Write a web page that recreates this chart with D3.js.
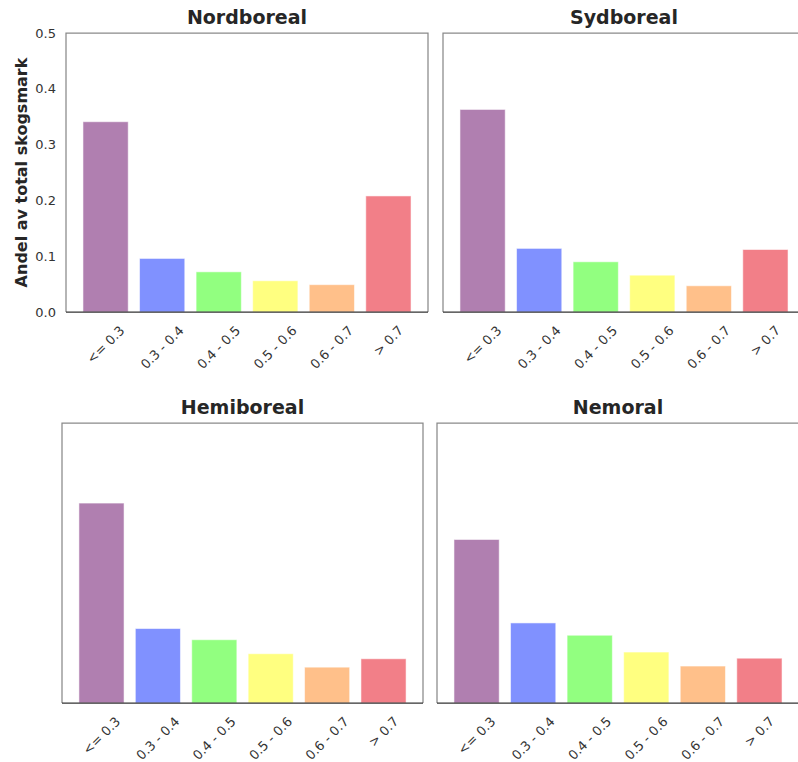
<!DOCTYPE html>
<html lang="sv">
<head>
<meta charset="utf-8">
<title>Andel av total skogsmark</title>
<script src="https://cdn.jsdelivr.net/npm/d3@7"></script>
<style>
	body { margin: 0; background: white; }
	svg { display: block; font-family: "DejaVu Sans", sans-serif; }
	.title { font-weight: bold; font-size: 19px; fill: #262626; }
	.ylab { font-weight: bold; font-size: 16px; fill: #262626; }
</style>
</head>
<body>
<script>
// the data
var categories = ["<= 0.3", "0.3 - 0.4", "0.4 - 0.5", "0.5 - 0.6", "0.6 - 0.7", "> 0.7"]
var regions = ["Nordboreal", "Sydboreal", "Hemiboreal", "Nemoral"]
var nordboreal = [0.341, 0.096, 0.072, 0.056, 0.049, 0.208]
var sydboreal  = [0.363, 0.114, 0.090, 0.066, 0.047, 0.112]
var hemiboreal = [0.357, 0.133, 0.113, 0.088, 0.064, 0.079]
var nemoral    = [0.292, 0.143, 0.121, 0.091, 0.066, 0.080]
var yTicks = [0.0, 0.1, 0.2, 0.3, 0.4, 0.5]
var barColors = ["#b07fb0", "#8091ff", "#92ff80", "#ffff80", "#ffc08a", "#f27f88"]

var series = [nordboreal, sydboreal, hemiboreal, nemoral]
var tickFont = 13

// panel boxes (left, right, top, bottom)
var panels = [
	{x0: 66,  x1: 428, y0: 33,  y1: 312, yaxis: true},
	{x0: 443, x1: 805, y0: 33,  y1: 312, yaxis: false},
	{x0: 62,  x1: 423, y0: 423, y1: 703, yaxis: false},
	{x0: 437, x1: 799, y0: 423, y1: 703, yaxis: false}
]

var svg = d3.select("body").append("svg")
	.attr("width", 798)
	.attr("height", 762)

panels.forEach(function(p, k) {
	var vals = series[k]
	var x = d3.scaleBand().domain(categories).range([p.x0, p.x1])
		.paddingInner(0.2).paddingOuter(0.3)
	var y = d3.scaleLinear().domain([0, 0.5]).range([p.y1, p.y0])
	var g = svg.append("g")

	// bars
	g.selectAll("rect.bar").data(vals).enter().append("rect")
		.attr("class", "bar")
		.attr("x", function(d, i) { return x(categories[i]) })
		.attr("width", x.bandwidth())
		.attr("y", function(d) { return y(d) })
		.attr("height", function(d) { return y(0) - y(d) })
		.attr("fill", function(d, i) { return barColors[i] })
		.attr("stroke", "rgba(255,255,255,0.55)")
		.attr("stroke-width", 1)

	// frame: grey left/top/right, dark bottom
	g.append("path")
		.attr("d", "M" + p.x0 + "," + p.y1 + "V" + p.y0 + "H" + p.x1 + "V" + p.y1)
		.attr("fill", "none").attr("stroke", "#8a8a8a").attr("stroke-width", 1.25)
	g.append("line")
		.attr("x1", p.x0).attr("x2", p.x1).attr("y1", p.y1).attr("y2", p.y1)
		.attr("stroke", "#333").attr("stroke-width", 1.25)

	// title
	g.append("text").attr("class", "title")
		.attr("x", (p.x0 + p.x1) / 2).attr("y", p.y0 - 9)
		.attr("text-anchor", "middle")
		.text(regions[k])

	// x axis, labels rotated 45 deg like matplotlib (ha=center)
	var xa = g.append("g").attr("transform", "translate(0," + p.y1 + ")")
		.call(d3.axisBottom(x).tickSize(0).tickPadding(0))
	xa.attr("font-size", null).attr("font-family", null)
	xa.select(".domain").remove()
	xa.selectAll(".tick").attr("transform", null)
	xa.selectAll(".tick text").each(function(d) {
		var t = d3.select(this)
		t.attr("y", null).attr("dy", null)
			.attr("fill", "#333")
			.style("font-size", tickFont + "px")
			.attr("text-anchor", "middle")
			.attr("dominant-baseline", "central")
		var L = this.getComputedTextLength()
		var yc = 11.5 + (L + tickFont) * 0.7071 / 2
		var cx = x(d) + x.bandwidth() / 2
		t.attr("transform", "translate(" + cx + "," + yc + ") rotate(-45)")
	})

	if (p.yaxis) {
		var ya = g.append("g").attr("transform", "translate(" + p.x0 + ",0)")
			.call(d3.axisLeft(y).tickValues(yTicks).tickSize(0).tickPadding(10)
				.tickFormat(d3.format(".1f")))
		ya.attr("font-size", null).attr("font-family", null)
		ya.select(".domain").remove()
		ya.selectAll(".tick text").attr("fill", "#333").style("font-size", tickFont + "px")
		g.append("text").attr("class", "ylab")
			.attr("transform", "translate(27," + (p.y0 + p.y1) / 2 + ") rotate(-90)")
			.attr("text-anchor", "middle")
			.text("Andel av total skogsmark")
	}
})
</script>
</body>
</html>
